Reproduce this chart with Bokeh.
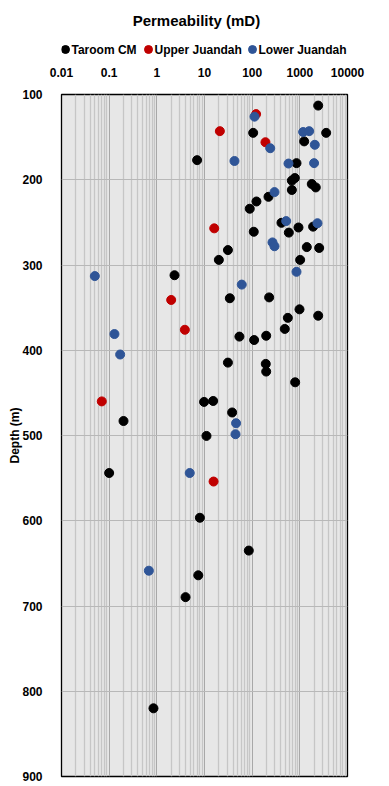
from bokeh.plotting import figure
from bokeh.layouts import column
from bokeh.models import FixedTicker, CustomJSTickFormatter, Label, Range1d
from bokeh.core.properties import value
from bokeh.embed import file_html
from bokeh.resources import INLINE

# Data (permeability mD, depth m)
taroom_perm = [2427, 105, 3570, 1233, 7.0, 851, 785, 680, 1780, 2160, 680, 220, 123, 89,
               412, 937, 1900, 108, 588, 1400, 2546, 31, 20, 1016, 2.35, 34, 227, 984,
               560, 2427, 483, 54, 110, 197, 31, 193, 197, 798, 9.8, 15.2, 38, 0.2, 11,
               0.1, 8.0, 85, 7.4, 4.0, 0.85]
taroom_depth = [113, 145, 145, 155, 177, 180.5, 198, 201, 205, 209, 212, 220, 225.5, 234,
                250.5, 256, 255, 261, 262, 279, 280, 282.5, 294, 294, 312, 339, 338, 352,
                362, 359.5, 375, 384, 388, 383, 414.5, 416, 425, 437.6, 460.6, 459.5, 473, 483, 500.5,
                544, 596.5, 635, 664, 689.6, 820]

upper_perm = [121, 21, 190, 16, 2.0, 3.87, 0.07, 15.5]
upper_depth = [123, 143, 156, 257, 341, 376, 460, 554]

lower_perm = [112, 1175, 1570, 239, 2060, 42.5, 578, 1990, 294, 517, 2345, 267, 294, 851,
              0.05, 60.5, 0.129, 0.17, 46, 44.7, 4.9, 0.68]
lower_depth = [126, 144, 143, 163, 159, 178, 181, 180.5, 214.5, 248.5, 251, 273.5, 278, 308,
               313, 323, 381, 405, 485.6, 498.5, 544, 658.6]

series_names = ["Taroom CM", "Upper Juandah", "Lower Juandah"]
series_colors = ["black", "#C00000", "#2F5597"]

x_ticks = [0.01, 0.1, 1, 10, 100, 1000, 10000]
y_ticks = [100, 200, 300, 400, 500, 600, 700, 800, 900]

FONT = "Liberation Sans"
W, H = 389, 786
LEFT, RIGHT = 61, 42
HEAD_H = 64

# ---- header: title + legend (its frame is aligned with the main frame; coords = page px) ----
head = figure(width=W, height=HEAD_H, x_range=Range1d(LEFT, W - RIGHT), y_range=Range1d(HEAD_H, 0),
              x_axis_type=None, y_axis_type=None, output_backend="svg", toolbar_location=None,
              min_border_left=LEFT, min_border_right=RIGHT, min_border_top=0, min_border_bottom=0)
head.outline_line_color = None
head.background_fill_color = "white"
head.border_fill_color = "white"
head.xgrid.visible = False
head.ygrid.visible = False
head.add_layout(Label(x=198, y=20, text="Permeability  (mD)", text_align="center",
                      text_baseline="middle", text_font=FONT, text_font_style="bold",
                      text_font_size="15px", text_color="black"))
legend_marker_x = [65, 148, 252]
legend_y = 49
head.scatter(x=legend_marker_x, y=[legend_y] * 3, size=8, color=series_colors)
head.text(x=[m + 6 for m in legend_marker_x], y=[legend_y] * 3, text=series_names,
          text_baseline="middle", text_align="left", text_font=value(FONT),
          text_font_style="bold", text_font_size="12px", text_color="black")

# ---- main plot ----
p = figure(width=W, height=H - HEAD_H, x_axis_type="log", x_range=(0.01, 10000),
           y_range=(900, 100), x_axis_location="above",
           output_backend="svg", toolbar_location=None,
           min_border_left=LEFT, min_border_right=RIGHT, min_border_bottom=10, min_border_top=30)

p.background_fill_color = "#e7e7e7"
p.border_fill_color = "white"
p.outline_line_color = "black"
p.outline_line_width = 1.3

minor = [m * 10.0 ** e for e in range(-2, 4) for m in range(2, 10)]
xt = FixedTicker(ticks=x_ticks, minor_ticks=minor)
p.xaxis.ticker = xt
p.xgrid.ticker = xt
p.xaxis.formatter = CustomJSTickFormatter(code="return String(tick);")
yt = FixedTicker(ticks=y_ticks)
p.yaxis.ticker = yt
p.ygrid.ticker = yt

for ax in (p.xaxis, p.yaxis):
    ax.axis_line_color = None
    ax.major_tick_line_color = None
    ax.minor_tick_line_color = None
    ax.major_label_text_font = FONT
    ax.major_label_text_font_style = "bold"
    ax.major_label_text_font_size = "12px"
    ax.major_label_text_color = "black"

p.xaxis.major_label_standoff = 12
p.yaxis.major_label_standoff = 13
p.yaxis.axis_label = "Depth (m)"
p.yaxis.axis_label_text_font = FONT
p.yaxis.axis_label_text_font_style = "bold"
p.yaxis.axis_label_text_font_size = "12px"
p.yaxis.axis_label_text_color = "black"
p.yaxis.axis_label_standoff = -3

p.xgrid.grid_line_color = "#a8a8a8"
p.xgrid.minor_grid_line_color = "#c6c6c6"
p.xgrid.minor_grid_line_width = 1.3
p.ygrid.grid_line_color = "#b8b8b8"

for xs, ys, c in zip([taroom_perm, upper_perm, lower_perm],
                     [taroom_depth, upper_depth, lower_depth], series_colors):
    p.scatter(xs, ys, size=9, color=c)

layout = column(head, p, spacing=0)
open("out.html", "w").write(file_html(layout, INLINE))
